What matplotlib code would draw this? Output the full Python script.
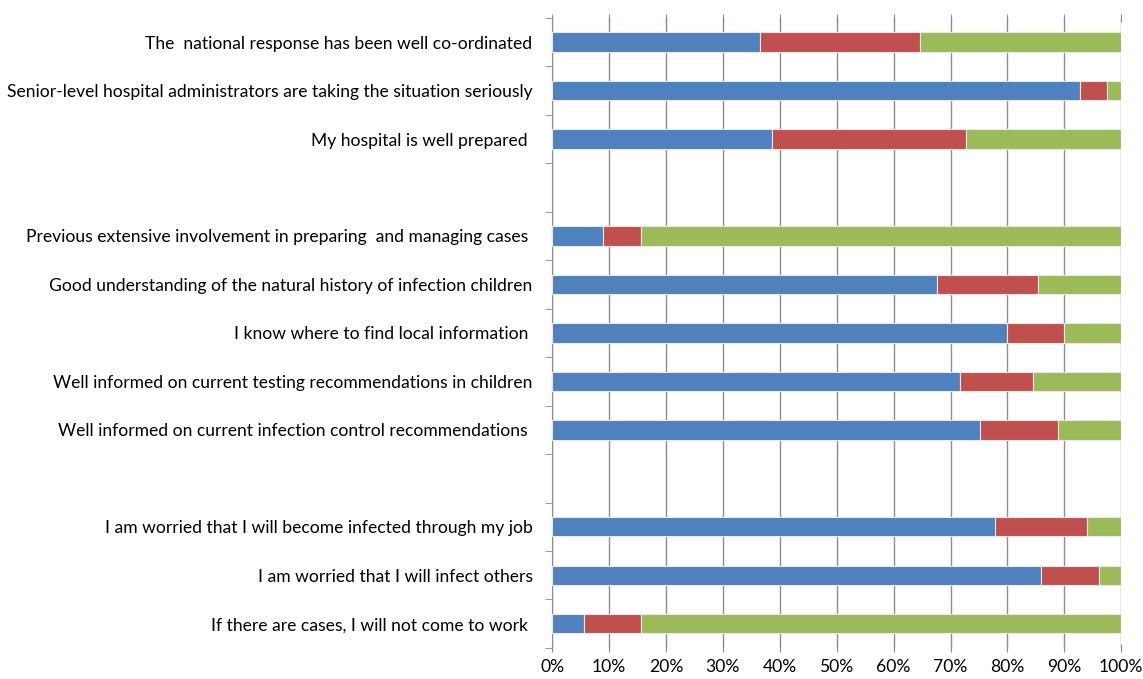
import numpy as np
import matplotlib.pyplot as plt
import matplotlib

matplotlib.rcParams.update({'font.size': 12.6, 'font.family': ['Lato', 'DejaVu Sans']})

# Statements, top to bottom ('' = spacer row between groups)
labels = ['The  national response has been well co-ordinated',
          'Senior-level hospital administrators are taking the situation seriously',
          'My hospital is well prepared ',
          '',
          'Previous extensive involvement in preparing  and managing cases ',
          'Good understanding of the natural history of infection children',
          'I know where to find local information ',
          'Well informed on current testing recommendations in children',
          'Well informed on current infection control recommendations ',
          '',
          'I am worried that I will become infected through my job',
          'I am worried that I will infect others',
          'If there are cases, I will not come to work ']

# Percent of responses per segment (nan for spacer rows)
blue = [36.6, 92.8, 38.7, np.nan, 9.0, 67.7, 80.0, 71.7, 75.2, np.nan, 77.9, 85.9, 5.6]
red = [28.1, 4.7, 34.1, np.nan, 6.6, 17.7, 10.0, 12.8, 13.6, np.nan, 16.1, 10.1, 10.0]
green = [35.3, 2.5, 27.2, np.nan, 84.4, 14.6, 10.0, 15.5, 11.2, np.nan, 6.0, 4.0, 84.4]

blue = np.array(blue)
red = np.array(red)
green = np.array(green)
y = np.arange(len(labels))

fig = plt.figure(figsize=(11.43, 6.79), dpi=100)
ax = fig.add_axes([0.483, 0.0457, 0.498, 0.928])

kw = dict(height=0.4, edgecolor='#e8e8e8', linewidth=0.8, zorder=3)
ax.barh(y, blue, color='#4F81BD', **kw)
ax.barh(y, red, left=blue, color='#C0504D', **kw)
ax.barh(y, green, left=blue + red, color='#9BBB59', **kw)

ax.set_xlim(0, 100)
ax.set_ylim(len(labels) - 0.5, -0.5)
ax.set_xticks(np.arange(0, 101, 10))
ax.set_xticklabels(['%d%%' % v for v in range(0, 101, 10)])
ax.xaxis.grid(True, color='#8c8c8c', linewidth=1.0, zorder=0)

ax.set_yticks(y)
ax.set_yticklabels(labels)
ax.set_yticks(np.arange(-0.5, len(labels)), minor=True)
ax.tick_params(axis='y', which='major', length=0, pad=14)
ax.tick_params(axis='y', which='minor', length=5, color='#8c8c8c', direction='out')
ax.tick_params(axis='x', length=6, color='#8c8c8c', direction='inout', top=True, pad=5)

for s in ['top', 'bottom', 'right']:
    ax.spines[s].set_visible(False)
ax.spines['left'].set_color('#8c8c8c')

fig.savefig('out.png')
